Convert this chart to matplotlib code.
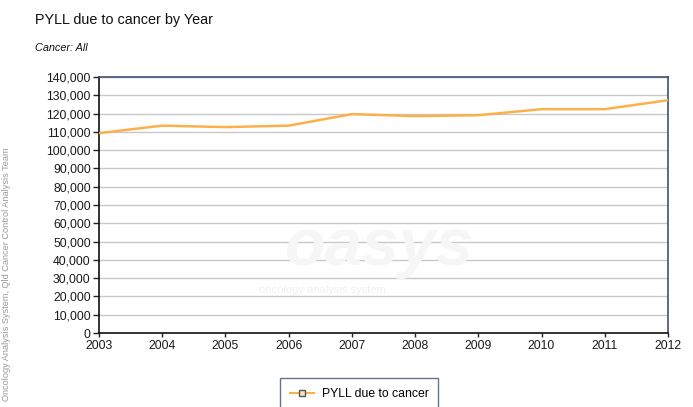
import matplotlib
matplotlib.use("Agg")
import matplotlib.pyplot as plt
from matplotlib.ticker import FuncFormatter

years = [2003, 2004, 2005, 2006, 2007, 2008, 2009, 2010, 2011, 2012]
pyll = [109300, 113400, 112600, 113400, 119700, 118600, 119100, 122400, 122400, 127300]
series_name = "PYLL due to cancer"
title = "PYLL due to cancer by Year"
subtitle = "Cancer: All"
side_note = "Oncology Analysis System, Qld Cancer Control Analysis Team"

plt.rcParams['font.family'] = ['Liberation Sans', 'DejaVu Sans']

fig = plt.figure(figsize=(6.93, 4.07), dpi=100)
ax = fig.add_axes([99/693, 1-333/407, (668-99)/693, (333-77)/407])

# watermark
fig.text(0.548, 0.39, "oasys", fontsize=48, color="#f6f6f6", ha="center",
         va="center", style="italic", fontweight="bold", zorder=0)
fig.text(0.465, 0.287, "oncology analysis system", fontsize=8, color="#f0f0f0",
         ha="center", va="center", zorder=0)

line, = ax.plot(years, pyll, color="#FDB04A", lw=1.8, label=series_name, zorder=3)

ax.set_xlim(2003, 2012)
ax.set_ylim(0, 140000)
ax.set_xticks(years)
ax.set_yticks(range(0, 140001, 10000))
ax.yaxis.set_major_formatter(FuncFormatter(lambda v, p: f"{int(v):,}"))
ax.grid(axis="y", color="#c8c8c8", lw=1.0)
ax.set_axisbelow(True)
ax.tick_params(axis="y", length=4, width=1, color="#222222", labelsize=8.8,
               labelcolor="#1a1a1a", pad=2)
ax.tick_params(axis="x", length=3, width=1, color="#222222", labelsize=8.8,
               labelcolor="#1a1a1a", pad=2)
for s in ["left", "bottom"]:
    ax.spines[s].set_color("#111111")
    ax.spines[s].set_linewidth(1.2)
for s in ["top", "right"]:
    ax.spines[s].set_color("#3d5075")
    ax.spines[s].set_linewidth(1.2)
ax.patch.set_alpha(0)

fig.text(35/693, 1-20/407, title, fontsize=10.4, color="#111111", va="center", ha="left")
fig.text(35/693, 1-48/407, subtitle, fontsize=7.8, style="italic", color="#111111",
         va="center", ha="left")
fig.text(7/693, 1-147/407, side_note, fontsize=6.6, color="#9a9a9a", rotation=90,
         ha="center", va="top")

leg_handle, = ax.plot([], [], color="#FDB04A", lw=1.5, marker="s", markersize=4,
                      markerfacecolor="#f5e7c8", markeredgecolor="#555555")
leg = fig.legend([leg_handle], [series_name], loc="upper left",
                 bbox_to_anchor=(280/693, 1-378/407), fontsize=8.8, frameon=True,
                 fancybox=False, shadow=False, borderpad=0.8, handlelength=2.0,
                 handletextpad=0.6, borderaxespad=0)
leg.get_frame().set_edgecolor("#44506a")
leg.get_frame().set_linewidth(1.0)

fig.savefig("out.png", dpi=100)
